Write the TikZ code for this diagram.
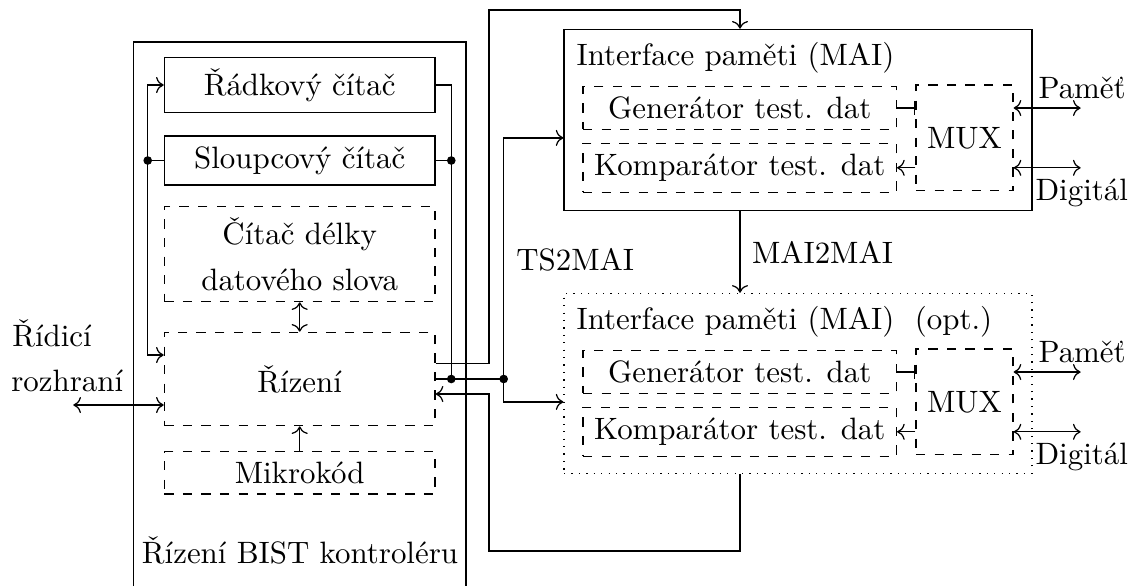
\documentclass[tikz,border=0pt]{standalone}
\usepackage{fontspec}
\usepackage{tikz}
\usetikzlibrary{arrows.meta, calc}

\begin{document}
\begin{tikzpicture}[x=0.3236pt, y=-0.3236pt,
    blok/.style={draw, inner sep=0pt, minimum width=87.6pt},
    volit/.style={blok, dashed},
    popis/.style={inner sep=0pt}]
    \useasboundingbox (0,0) rectangle (1135,586);

    % řadič BIST
    \draw (133.2,586) |- (466,42) -- (466,586);
    \node[blok, minimum height=17.7pt] (radk) at (299.7,85) {Řádkový čítač};
    \node[blok, minimum height=15.9pt] (sloup) at (299.7,160.5) {Sloupcový čítač};
    \node[volit, minimum height=30.7pt, align=center] (delka) at (299.7,254.2) {Čítač délky\\[2.6pt]datového slova};
    \node[volit, minimum height=30.2pt] (rizeni) at (299.7,379) {Řízení};
    \node[volit, minimum height=13.7pt] (mikro) at (299.7,472.8) {Mikrokód};
    \node[popis, anchor=base] (bisttxt) at (300,563) {Řízení BIST kontroléru};

    \draw[<->] (delka) -- (rizeni);
    \draw[->] (mikro) -- (rizeni);

    % rozhraní
    \node[popis, anchor=base west] (ridtxt) at (11.7,346) {Řídicí};
    \node[popis, anchor=base west] (rozhrtxt) at (10.7,391.7) {rozhraní};
    \coordinate (rozhr) at (73.3,405);
    \draw[<->] (rozhr) -- (rozhr -| rizeni.west);

    % levá sběrnice
    \draw (sloup.west) -- ++(-16,0) coordinate (lbus);
    \draw[->] (lbus) |- (radk.west);
    \draw[->] (lbus) |- ($(rizeni.west)+(0,-24)$);
    \fill (lbus) circle (1.4pt);

    % pravá sběrnice
    \draw (radk.east) -- ++(15.6,0) coordinate (rtop) -- (rtop |- rizeni.east) coordinate (rbot);
    \draw (sloup.east) -- (sloup.east -| rtop) coordinate (rmid);
    \fill (rmid) circle (1.4pt);

    % první MAI
    \node[blok, minimum width=151.4pt, minimum height=58.7pt] (mai1) at (798,120) {};
    \node[popis, anchor=base west] (maitxt1) at (576,65) {Interface paměti (MAI)};
    \node[volit, minimum width=101.4pt, minimum height=13.8pt] (gen1) at (739.75,108) {Generátor test. dat};
    \node[volit, minimum width=101.4pt, minimum height=15.9pt] (komp1) at (739.75,167.8) {Komparátor test. dat};
    \node[volit, minimum width=31.4pt, minimum height=34.2pt] (mux1) at (964.5,137.9) {MUX};
    \draw[-Bar] (gen1.east) -- (gen1.east -| mux1.west);
    \draw[->] (mux1.west |- komp1) -- (komp1.east);
    \draw[<->] (mux1.east |- gen1) -- ++(67,0);
    \draw[<->] (mux1.east |- komp1) -- ++(67,0);
    \node[popis, anchor=base west] (pam1) at (1038,98) {Paměť};
    \node[popis, anchor=base west] (dig1) at (1035,200.3) {Digitál};

    % druhý MAI
    \node[blok, dotted, minimum width=151.4pt, minimum height=58.2pt] (mai2) at (798,383.3) {};
    \node[popis, anchor=base west] (maitxt2) at (576,329) {Interface paměti (MAI)~~(opt.)};
    \node[volit, minimum width=101.4pt, minimum height=13.8pt] (gen2) at (739.75,372) {Generátor test. dat};
    \node[volit, minimum width=101.4pt, minimum height=15.9pt] (komp2) at (739.75,431.8) {Komparátor test. dat};
    \node[volit, minimum width=31.4pt, minimum height=34.2pt] (mux2) at (964.5,401.9) {MUX};
    \draw[-Bar] (gen2.east) -- (gen2.east -| mux2.west);
    \draw[->] (mux2.west |- komp2) -- (komp2.east);
    \draw[<->] (mux2.east |- gen2) -- ++(67,0);
    \draw[<->] (mux2.east |- komp2) -- ++(67,0);
    \node[popis, anchor=base west] (pam2) at (1038,362) {Paměť};
    \node[popis, anchor=base west] (dig2) at (1035,464.3) {Digitál};

    % TS2MAI
    \draw[thick] (rizeni.east) -- ++(68,0) coordinate (ts);
    \fill (rbot) circle (1.4pt);
    \fill (ts) circle (1.4pt);
    \draw[->] (ts) |- (mai1.west |- mux1);
    \draw[->] (ts) |- (mai2.west |- mux2);
    \node[popis, anchor=base west] (tstxt) at (515.8,270) {TS2MAI};

    % horní a zpětný vodič
    \coordinate (horni) at (740,10);
    \coordinate (dolni) at (740,551);
    \draw[->] ($(rizeni.east)+(0,-15.7)$) -- ++(53.4,0) coordinate (hv) -- (hv |- horni) -- (horni) -- (horni |- mai1.north);
    \draw[->] (dolni |- mai2.south) -- (dolni) -| ($(rizeni.east)+(53.4,15)$) -- ($(rizeni.east)+(0,15)$);

    % MAI2MAI
    \draw[->] (horni |- mai1.south) -- (horni |- mai2.north);
    \node[popis, anchor=base west] (mmtxt) at (751.5,263.3) {MAI2MAI};
\end{tikzpicture}
\end{document}
